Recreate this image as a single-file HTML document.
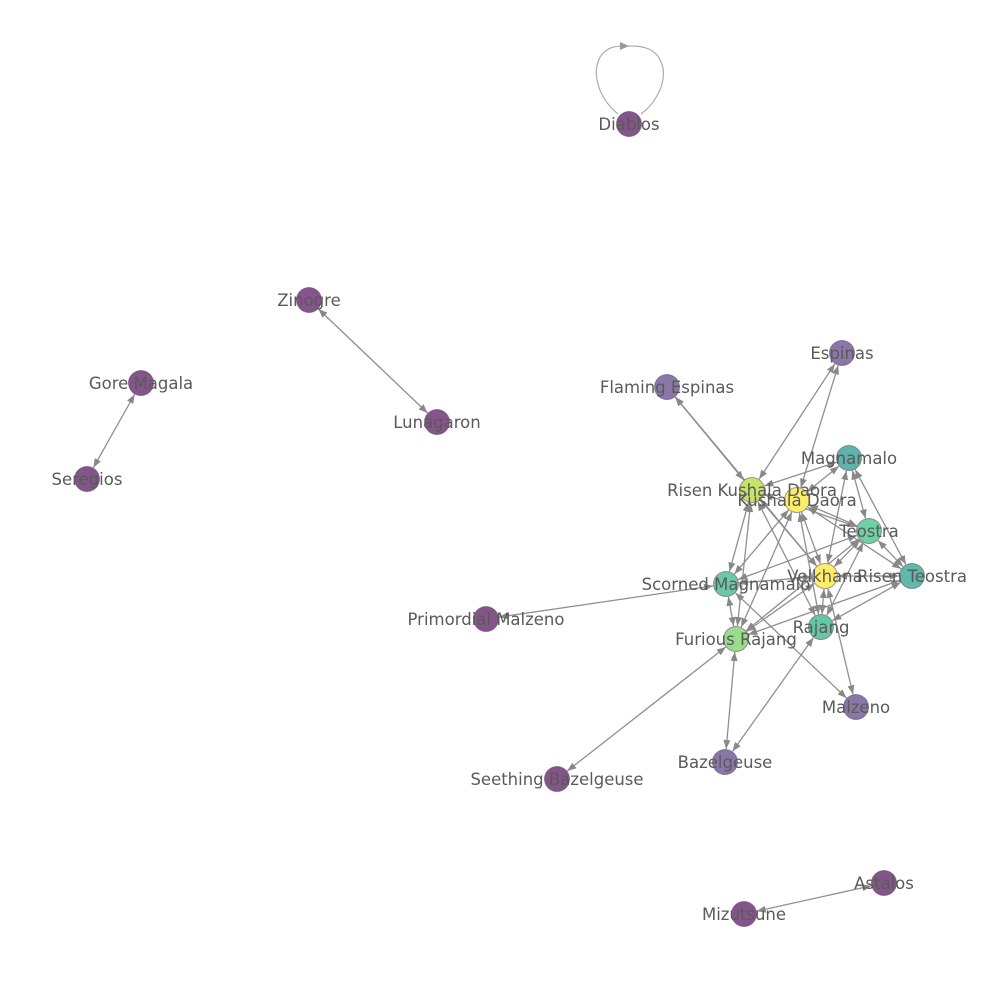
<!DOCTYPE html>
<html><head><meta charset="utf-8"><style>
html,body{margin:0;padding:0;background:#fff;}
svg{display:block}
text{font-family:"DejaVu Sans","Liberation Sans",sans-serif;font-size:16.5px;fill:#5a5a5a;}
</style></head><body>
<svg id="s" width="1000" height="1000" viewBox="0 0 1000 1000">
<path d="M618,114 C596,96 594,72 598,62 C604,44 622,46 628,46 C640,46 658,46 663,68 C666,88 652,106 641,114" fill="none" stroke="#aaa" stroke-width="1.2"/>
<polygon points="629,46 620,42 620,50" fill="#999"/>
<g id="e"></g><g id="n"></g><g id="t"></g>
</svg>
<script>
var N={
DI:[629,124,"Diablos","#84558a"],ZI:[309,300,"Zinogre","#84558a"],LU:[437,422,"Lunagaron","#84558a"],
GM:[141,383,"Gore Magala","#84558a"],SE:[87,479,"Seregios","#84558a"],ES:[842,353,"Espinas","#8a77a9"],
FE:[667,387,"Flaming Espinas","#8a77a9"],MG:[849,458,"Magnamalo","#5fb3ad"],RK:[752,490,"Risen Kushala Daora","#c6e36a"],
KD:[797,500,"Kushala Daora","#fdee6a"],TE:[869,531,"Teostra","#6fd0a0"],VE:[825,576,"Velkhana","#fdee6a"],
RT:[912,576,"Risen Teostra","#5fbaa8"],SM:[726,584,"Scorned Magnamalo","#6cc9a8"],PM:[486,619,"Primordial Malzeno","#84558a"],
RA:[821,627,"Rajang","#66c7a5"],FR:[736,639,"Furious Rajang","#98dd8c"],MA:[856,707,"Malzeno","#8a77a9"],
BZ:[725,762,"Bazelgeuse","#8a77a9"],SB:[557,779,"Seething Bazelgeuse","#84558a"],AS:[884,883,"Astalos","#84558a"],
MI:[744,914,"Mizutsune","#84558a"]};
var E="ZI-LU GM-SE MI-AS PM-SM SB-FR BZ-FR BZ-RA MA-SM MA-VE FE-RK FE-VE ES-RK ES-KD RK-MG RK-TE RK-SM RK-FR RK-RA RK-VE KD-MG KD-TE KD-SM KD-FR KD-VE KD-RA KD-RT MG-TE MG-RT MG-VE TE-VE TE-SM TE-FR TE-RA TE-RT VE-RT VE-RA VE-SM VE-FR RT-FR RT-RA SM-FR".split(" ");
var ns="http://www.w3.org/2000/svg",eg=document.getElementById("e"),ng=document.getElementById("n"),tg=document.getElementById("t");
function el(t,a,p){var x=document.createElementNS(ns,t);for(var k in a)x.setAttribute(k,a[k]);p.appendChild(x);return x;}
function head(x,y,ux,uy){var L=9,W=3.5;var bx=x-ux*L,by=y-uy*L;
el("polygon",{points:x+","+y+" "+(bx-uy*W)+","+(by+ux*W)+" "+(bx+uy*W)+","+(by-ux*W),fill:"#888"},eg);}
E.forEach(function(s){var p=s.split("-"),a=N[p[0]],b=N[p[1]];var dx=b[0]-a[0],dy=b[1]-a[1],d=Math.hypot(dx,dy),ux=dx/d,uy=dy/d,r=13;
var x1=a[0]+ux*r,y1=a[1]+uy*r,x2=b[0]-ux*r,y2=b[1]-uy*r;
el("line",{x1:x1,y1:y1,x2:x2,y2:y2,stroke:"#8f8f8f","stroke-width":1.3},eg);head(x2,y2,ux,uy);head(x1,y1,-ux,-uy);});
for(var k in N){var v=N[k];el("circle",{cx:v[0],cy:v[1],r:12.5,fill:v[3],stroke:"#5a3a60","stroke-opacity":0.5,"stroke-width":1},ng);
var t=el("text",{x:v[0],y:v[1]+6,"text-anchor":"middle"},tg);t.textContent=v[2];}
</script>
</body></html>
